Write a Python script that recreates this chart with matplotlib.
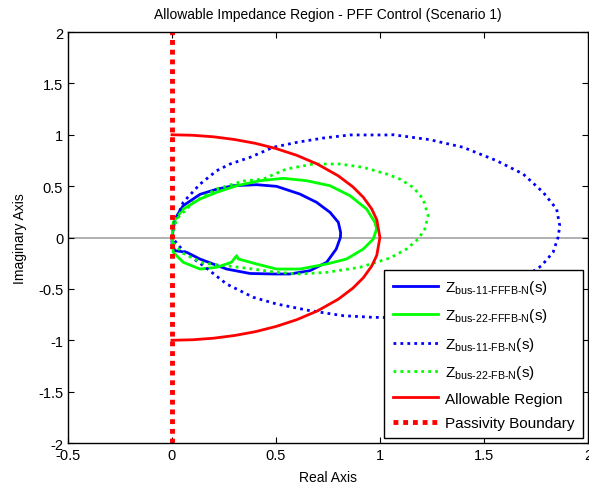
import numpy as np
import matplotlib
matplotlib.use('Agg')
import matplotlib.pyplot as plt

plt.rcParams['font.family'] = ['Liberation Sans', 'DejaVu Sans']
plt.rcParams['mathtext.fontset'] = 'custom'
plt.rcParams['mathtext.rm'] = 'Liberation Sans'
plt.rcParams['mathtext.it'] = 'Liberation Sans'

# Z_bus-11-FFFB-N (solid blue)
z11_re = [0.0, 0.014, 0.054, 0.135, 0.215, 0.295, 0.407, 0.503, 0.615, 0.695, 0.76, 0.80, 0.811,
          0.81, 0.79, 0.744, 0.663, 0.567, 0.487, 0.375, 0.263, 0.135, 0.071, 0.014, 0.0, 0.0]
z11_im = [0.0, 0.18, 0.31, 0.42, 0.47, 0.504, 0.514, 0.498, 0.423, 0.343, 0.245, 0.148, 0.05,
          0.0, -0.112, -0.241, -0.323, -0.355, -0.355, -0.35, -0.307, -0.21, -0.144, -0.128, -0.063, 0.0]

# Z_bus-22-FFFB-N (solid green)
z22_re = [0.0, 0.006, 0.054, 0.135, 0.215, 0.311, 0.423, 0.535, 0.647, 0.76, 0.856, 0.936, 0.976,
          0.984, 0.968, 0.92, 0.84, 0.744, 0.615, 0.503, 0.407, 0.319, 0.311, 0.286, 0.215, 0.135,
          0.054, 0.006, 0.0]
z22_im = [0.0, 0.148, 0.277, 0.375, 0.44, 0.504, 0.553, 0.576, 0.553, 0.504, 0.407, 0.277, 0.148,
          0.083, -0.015, -0.112, -0.209, -0.258, -0.307, -0.307, -0.258, -0.209, -0.177, -0.241,
          -0.29, -0.307, -0.241, -0.144, 0.0]

# Z_bus-11-FB-N (dotted blue)
z11fb_re = [0.0, 0.014, 0.054, 0.135, 0.215, 0.279, 0.375, 0.487, 0.6, 0.727, 0.856, 1.03, 1.064,
            1.24, 1.4, 1.561, 1.689, 1.785, 1.85, 1.865, 1.857, 1.833, 1.777, 1.65, 1.5, 1.3,
            1.1, 0.968, 0.824, 0.663, 0.503, 0.391, 0.263, 0.151, 0.1, 0.05, 0.0]
z11fb_im = [0.0, 0.148, 0.343, 0.52, 0.65, 0.715, 0.78, 0.878, 0.926, 0.968, 0.998, 0.998, 1.0,
            0.952, 0.878, 0.748, 0.618, 0.44, 0.277, 0.115, 0.002, -0.144, -0.275, -0.45, -0.6,
            -0.72, -0.78, -0.777, -0.761, -0.712, -0.647, -0.582, -0.453, -0.275, -0.2, -0.12, 0.0]

# Z_bus-22-FB-N (dotted green)
z22fb_re = [0.0, 0.022, 0.103, 0.215, 0.343, 0.439, 0.551, 0.679, 0.808, 0.92, 1.032, 1.096, 1.16,
            1.208, 1.232, 1.216, 1.184, 1.128, 1.048, 0.904, 0.744, 0.615, 0.503, 0.391, 0.263,
            0.15, 0.05, 0.01, 0.0]
z22fb_im = [0.0, 0.18, 0.343, 0.472, 0.55, 0.569, 0.667, 0.715, 0.715, 0.683, 0.618, 0.569, 0.488,
            0.375, 0.212, 0.083, -0.015, -0.112, -0.2, -0.29, -0.339, -0.355, -0.339, -0.307, -0.275,
            -0.25, -0.15, -0.06, 0.0]

# allowable region (red)
allow_re = [0.0, 0.1, 0.2, 0.3, 0.4, 0.5, 0.6, 0.7, 0.8, 0.87, 0.92, 0.96, 0.985, 1.0,
            0.985, 0.96, 0.92, 0.87, 0.8, 0.7, 0.6, 0.5, 0.4, 0.3, 0.2, 0.1, 0.0]
allow_im = [1.0, 0.995, 0.98, 0.954, 0.917, 0.866, 0.8, 0.714, 0.6, 0.493, 0.392, 0.28, 0.173, 0.0,
            -0.173, -0.28, -0.392, -0.493, -0.6, -0.714, -0.8, -0.866, -0.917, -0.954, -0.98, -0.995, -1.0]

passive_re = [0.0, 0.0]
passive_im = [-2.0, 2.0]

fig = plt.figure(figsize=(5.89, 4.89), dpi=100)
ax = fig.add_axes([0.1155, 0.092, 0.8825, 0.8405])

ax.axhline(0, color='#aaaaaa', lw=1.3, zorder=1)
ax.plot(z11_re, z11_im, color='#0000ff', lw=2, label=r'Z$_{\mathregular{bus\text{-}11\text{-}FFFB\text{-}N}}$(s)')
ax.plot(z22_re, z22_im, color='#00ff00', lw=2, label=r'Z$_{\mathregular{bus\text{-}22\text{-}FFFB\text{-}N}}$(s)')
ax.plot(z11fb_re, z11fb_im, color='#0000ff', lw=2, ls=(0, (1, 1.5)), label=r'Z$_{\mathregular{bus\text{-}11\text{-}FB\text{-}N}}$(s)')
ax.plot(z22fb_re, z22fb_im, color='#00ff00', lw=2, ls=(0, (1, 1.5)), label=r'Z$_{\mathregular{bus\text{-}22\text{-}FB\text{-}N}}$(s)')
ax.plot(allow_re, allow_im, color='#ff0000', lw=2, label='Allowable Region')
ax.plot(passive_re, passive_im, color='#ff0000', lw=3.5, ls=(0, (1, 1)), label='Passivity Boundary')

ax.set_xlim(-0.5, 2)
ax.set_ylim(-2, 2)
ax.set_xticks([-0.5, 0, 0.5, 1, 1.5, 2])
ax.set_xticklabels(['-0.5', '0', '0.5', '1', '1.5', '2'])
ax.set_yticks([-2, -1.5, -1, -0.5, 0, 0.5, 1, 1.5, 2])
ax.set_yticklabels(['-2', '-1.5', '-1', '-0.5', '0', '0.5', '1', '1.5', '2'])
ax.tick_params(direction='in', top=True, right=True, labelsize=10.5, length=4)
for s in ax.spines.values():
    s.set_linewidth(1)

ax.set_title('Allowable Impedance Region - PFF Control (Scenario 1)', fontsize=10, pad=10)
ax.set_xlabel('Real Axis', fontsize=10, labelpad=6)
ax.set_ylabel('Imaginary Axis', fontsize=10, labelpad=8)

leg = ax.legend(loc='lower right', fontsize=11, fancybox=False, framealpha=1, edgecolor='black',
                borderaxespad=0.3, handlelength=3.0, labelspacing=0.68, borderpad=0.55,
                handletextpad=0.45)
leg.get_frame().set_linewidth(1)

fig.savefig('out.png', dpi=100)
